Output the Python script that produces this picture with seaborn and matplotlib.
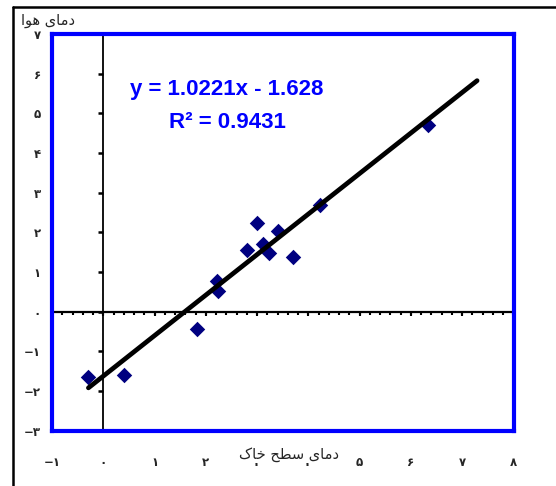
import numpy as np
import pandas as pd
import matplotlib
matplotlib.use("Agg")
import matplotlib.pyplot as plt
from matplotlib.lines import Line2D
import seaborn as sns

# Soil-surface temperature vs. air temperature
soil_temp = [-0.29, 0.40, 1.82, 2.22, 2.24, 2.80, 3.00, 3.11, 3.23, 3.41, 3.70, 4.23, 6.34]
air_temp = [-1.66, -1.60, -0.44, 0.78, 0.52, 1.55, 2.23, 1.70, 1.48, 2.03, 1.38, 2.69, 4.71]

# Linear trend line as reported on the chart
slope = 1.0221
intercept = -1.628
r_squared = 0.9431
forecast_ahead = 0.95

x_ticks = list(range(-1, 9))
y_ticks = list(range(-3, 8))

# Axis titles (Arabic presentation forms in visual order)
y_title = "\uFE8D\uFEEE\uFEEB \uFBFC\uFE8E\uFEE3\uFEA9"              # دمای هوا
x_title = "\uFB8E\uFE8E\uFEA7 \uFEA2\uFEC4\uFEB3 \uFBFC\uFE8E\uFEE3\uFEA9"  # دمای سطح خاک

PERSIAN = str.maketrans("0123456789-", "۰۱۲۳۴۵۶۷۸۹−")


def fa(n):
    return str(n).translate(PERSIAN)


sns.set_style("white")
plt.rcParams["font.family"] = ["DejaVu Sans"]

W, H = 556, 486
fig = plt.figure(figsize=(W / 100, H / 100), dpi=100)
ax = fig.add_axes([52 / W, (H - 430.5) / H, 461.5 / W, 396.5 / H])

df = pd.DataFrame({"soil": soil_temp, "air": air_temp})

# axes through the origin with their tick marks
ax.axvline(0, color="black", lw=1.3, zorder=1)
ax.axhline(0, color="black", lw=1.6, zorder=1)
ax.hlines(y_ticks, -0.1, 0, color="black", lw=1.8, zorder=1)
minor_x = np.arange(-1, 8.01, 0.2)
ax.vlines(minor_x, -0.08, 0, color="black", lw=1.5, zorder=1)
ax.vlines(x_ticks, -0.12, 0, color="black", lw=1.5, zorder=1)

# trend line
line_x = np.array([min(soil_temp), max(soil_temp) + forecast_ahead])
line_df = pd.DataFrame({"soil": line_x, "air": slope * line_x + intercept})
sns.lineplot(data=line_df, x="soil", y="air", color="black", lw=3.4,
             ax=ax, zorder=3)

sns.scatterplot(data=df, x="soil", y="air", marker="D", color="#000080",
                s=62, linewidth=0, ax=ax, zorder=2)

ax.set_xlim(-1, 8)
ax.set_ylim(-3, 7)
ax.set_xticks(x_ticks)
ax.set_xticklabels([fa(t) for t in x_ticks], fontsize=8.5, fontweight="bold")
ax.set_yticks(y_ticks)
ax.set_yticklabels([fa(t) for t in y_ticks], fontsize=8.5, fontweight="bold")
ax.tick_params(axis="x", length=0, pad=18.5)
ax.tick_params(axis="y", length=0, pad=8)
ax.set_xlabel("")
ax.set_ylabel("")
ax.grid(False)

for sp in ax.spines.values():
    sp.set_color("#0000FF")
    sp.set_linewidth(3)
    sp.set_zorder(4)

# regression equation
eq_font = dict(family="Liberation Sans", weight="bold", color="#0000FF",
               fontsize=16, ha="center", va="center")
fig.text(227 / W, 1 - 90 / H, f"y = {slope}x - {abs(intercept)}", **eq_font)
fig.text(227 / W, 1 - 123 / H, f"R\u00b2 = {r_squared}", **eq_font)

# axis titles
fig.text(48 / W, 1 - 21 / H, y_title, fontsize=10.5, ha="center", va="center")
fig.text(289 / W, 1 - 454 / H, x_title, fontsize=10.5, ha="center", va="center",
         bbox=dict(facecolor="white", edgecolor="none", pad=1))

# outer frame
fig.add_artist(Line2D([13 / W, 1.05], [1 - 7 / H, 1 - 7 / H],
                      transform=fig.transFigure, color="black", lw=1.8))
fig.add_artist(Line2D([13 / W, 13 / W], [1 - 7 / H, -0.05],
                      transform=fig.transFigure, color="black", lw=1.8))

fig.savefig("out.png", dpi=100)
